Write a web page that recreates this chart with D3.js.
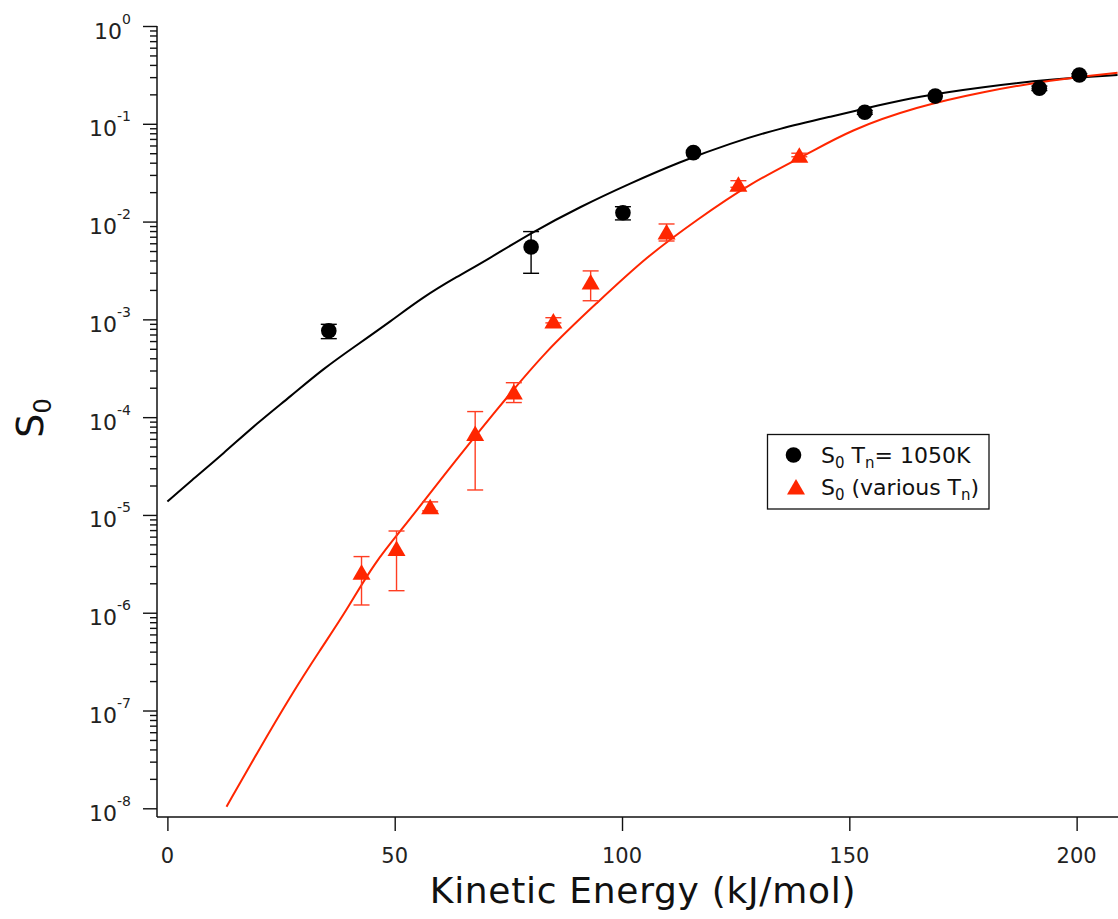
<!DOCTYPE html>
<html>
<head>
<meta charset="utf-8">
<script src="https://cdn.jsdelivr.net/npm/d3@7"></script>
<style>
  html, body { margin: 0; padding: 0; background: #fff; }
  svg { display: block; font-family: "DejaVu Sans", sans-serif; }
</style>
</head>
<body>
<svg id="chart" width="1118" height="919"></svg>
<script>
// ── Data ───────────────────────────────────────────────────────────────────
// Black circles: S0 at Tn = 1050 K  (x = kinetic energy kJ/mol)
const circleX  = [35.5, 80.0, 100.2, 115.7, 153.4, 168.9, 191.8, 200.6];
const circleY  = [7.66e-4, 5.5e-3, 0.0123, 0.0507, 0.131, 0.192, 0.2306, 0.315];
const circleHi = [8.9e-4, 7.9e-3, 0.0142, 0.0507, 0.137, 0.192, 0.243, 0.325];
const circleLo = [6.35e-4, 2.96e-3, 0.0104, 0.0507, 0.125, 0.192, 0.219, 0.305];

// Red triangles: S0 at various Tn
const triX  = [42.7, 50.4, 57.8, 67.7, 76.2, 84.9, 93.1, 109.8, 125.6, 139.0];
const triY  = [2.61e-6, 4.57e-6, 1.22e-5, 6.85e-5, 1.82e-4, 9.7e-4, 2.43e-3, 7.88e-3, 0.0242, 0.048];
const triHi = [3.75e-6, 6.85e-6, 1.36e-5, 1.14e-4, 2.25e-4, 1.04e-3, 3.13e-3, 9.45e-3, 0.0262, 0.050];
const triLo = [1.2e-6, 1.68e-6, 1.1e-5, 1.8e-5, 1.41e-4, 9.2e-4, 1.55e-3, 6.33e-3, 0.0224, 0.046];

// Fit curves (sampled along the drawn lines)
const blackFitX = [0, 5.0, 12.4, 19.7, 27.0, 34.4, 41.7, 49.0, 56.4, 63.7, 70.3, 79.8, 90.8,
                   101.8, 112.8, 123.8, 134.8, 145.8, 156.8, 164.8, 179.5, 194.2, 209.0];
const blackFitY = [1.37e-5, 2.19e-5, 4.28e-5, 8.66e-5, 1.62e-4, 3.16e-4, 5.47e-4, 9.48e-4, 1.71e-3,
                   2.73e-3, 4.05e-3, 7.59e-3, 0.01419, 0.02464, 0.04095, 0.0632, 0.0900, 0.118,
                   0.1557, 0.189, 0.239, 0.285, 0.315];
const redFitX = [13.0, 19.7, 27.0, 33.6, 39.5, 45.4, 52.7, 60.0, 72.4, 83.4, 94.4, 105.4,
                 116.4, 128.2, 140.5, 150.2, 164.8, 179.5, 194.2, 209.0];
const redFitY = [1.04e-8, 3.66e-8, 1.39e-7, 4.17e-7, 1.07e-6, 3.21e-6, 8.22e-6, 2.28e-5, 1.19e-4,
                 4.87e-4, 1.46e-3, 4.38e-3, 0.01038, 0.0247, 0.048, 0.0865, 0.1496, 0.213,
                 0.2805, 0.333];

const xTicks = [0, 50, 100, 150, 200];
const yExps  = [0, -1, -2, -3, -4, -5, -6, -7, -8];

// ── Layout ────────────────────────────────────────────────────────────────
const RED = "#ff2600";
const svg = d3.select("#chart");

const x = d3.scaleLinear().domain([0, 209.1]).range([167.4, 1118]);
const y = d3.scaleLog().domain([1e-8, 1]).range([808.3, 26]);

const axisX = 157, axisY = 817;

// Y axis: line, major + minor ticks
const yMinor = [];
for (let e = -8; e < 0; e++) for (let m = 2; m <= 9; m++) yMinor.push(m * Math.pow(10, e));

svg.append("g").attr("transform", `translate(${axisX},0)`)
  .call(d3.axisLeft(y).tickValues(yMinor).tickSize(7).tickFormat(""))
  .call(ax => ax.select(".domain").remove())
  .selectAll("line").attr("stroke", "#111").attr("stroke-width", 1.4);

svg.append("g").attr("transform", `translate(${axisX},0)`)
  .call(d3.axisLeft(y).tickValues(yExps.map(e => Math.pow(10, e))).tickSize(14).tickFormat(""))
  .call(ax => ax.select(".domain").remove())
  .selectAll("line").attr("stroke", "#111").attr("stroke-width", 1.4);

svg.append("line")
  .attr("x1", axisX).attr("x2", axisX).attr("y1", 26).attr("y2", axisY)
  .attr("stroke", "#111").attr("stroke-width", 1.5);

const yLab = svg.append("g").selectAll("text").data(yExps).join("text")
  .attr("x", 131).attr("y", d => y(Math.pow(10, d)) + 12.5)
  .attr("text-anchor", "end").attr("fill", "#222").attr("font-size", 22);
yLab.append("tspan").text("10");
yLab.append("tspan").attr("dy", -15).attr("font-size", 14).text(d => String(d));

// X axis
svg.append("g").attr("transform", `translate(0,${axisY})`)
  .call(d3.axisBottom(x).tickValues(xTicks).tickSize(14).tickFormat(""))
  .call(ax => ax.select(".domain").remove())
  .selectAll("line").attr("stroke", "#111").attr("stroke-width", 1.4);

svg.append("line")
  .attr("x1", axisX).attr("x2", 1118).attr("y1", axisY).attr("y2", axisY)
  .attr("stroke", "#111").attr("stroke-width", 1.5);

svg.append("g").selectAll("text").data(xTicks).join("text")
  .attr("x", d => x(d)).attr("y", 863)
  .attr("text-anchor", "middle").attr("fill", "#222").attr("font-size", 21)
  .text(d => d);

// Axis titles
svg.append("text")
  .attr("x", 643).attr("y", 903).attr("text-anchor", "middle")
  .attr("font-size", 36).attr("letter-spacing", 0.7).attr("fill", "#111")
  .text("Kinetic Energy (kJ/mol)");

const yt = svg.append("text")
  .attr("transform", "translate(43,418) rotate(-90)")
  .attr("text-anchor", "middle").attr("font-size", 38).attr("fill", "#111");
yt.append("tspan").text("S");
yt.append("tspan").attr("dy", 8).attr("font-size", 24).text("0");

// ── Fit curves ────────────────────────────────────────────────────────────
const line = d3.line().x(d => x(d[0])).y(d => y(d[1])).curve(d3.curveBasis);

svg.append("path").datum(d3.zip(blackFitX, blackFitY))
  .attr("d", line).attr("fill", "none").attr("stroke", "#000").attr("stroke-width", 2);
svg.append("path").datum(d3.zip(redFitX, redFitY))
  .attr("d", line).attr("fill", "none").attr("stroke", RED).attr("stroke-width", 2);

// ── Error bars ────────────────────────────────────────────────────────────
function errorBars(xs, hi, lo, color, width) {
  const g = svg.append("g").attr("stroke", color).attr("stroke-width", width).attr("fill", "none");
  xs.forEach((xv, i) => {
    if (hi[i] === lo[i]) return;
    const cx = x(xv), y1 = y(hi[i]), y2 = y(lo[i]);
    g.append("line").attr("x1", cx).attr("x2", cx).attr("y1", y1).attr("y2", y2);
    g.append("line").attr("x1", cx - 8).attr("x2", cx + 8).attr("y1", y1).attr("y2", y1);
    g.append("line").attr("x1", cx - 8).attr("x2", cx + 8).attr("y1", y2).attr("y2", y2);
  });
}
errorBars(circleX, circleHi, circleLo, "#000", 1.4);
errorBars(triX, triHi, triLo, "#ff3d22", 1.4);

// ── Markers ───────────────────────────────────────────────────────────────
const triPath = "M0,-8L9,7.5L-9,7.5Z";

svg.append("g").selectAll("circle").data(d3.zip(circleX, circleY)).join("circle")
  .attr("cx", d => x(d[0])).attr("cy", d => y(d[1])).attr("r", 7.8).attr("fill", "#000");

svg.append("g").selectAll("path").data(d3.zip(triX, triY)).join("path")
  .attr("d", triPath)
  .attr("transform", d => `translate(${x(d[0])},${y(d[1]) + 0.3})`)
  .attr("fill", RED);

// ── Legend ────────────────────────────────────────────────────────────────
const lg = svg.append("g");
lg.append("rect").attr("x", 767.5).attr("y", 434.5).attr("width", 221.5).attr("height", 74.5)
  .attr("fill", "#fff").attr("stroke", "#111").attr("stroke-width", 1.3);
lg.append("circle").attr("cx", 793.5).attr("cy", 455).attr("r", 7.8).attr("fill", "#000");
lg.append("path").attr("d", triPath).attr("transform", "translate(796,487)").attr("fill", RED);

const l1 = lg.append("text").attr("x", 821).attr("y", 463).attr("font-size", 22).attr("fill", "#111");
l1.append("tspan").text("S");
l1.append("tspan").attr("dy", 5).attr("font-size", 15).text("0");
l1.append("tspan").attr("dy", -5).text(" T");
l1.append("tspan").attr("dy", 5).attr("font-size", 15).text("n");
l1.append("tspan").attr("dy", -5).text("= 1050K");

const l2 = lg.append("text").attr("x", 821).attr("y", 495).attr("font-size", 22).attr("fill", "#111");
l2.append("tspan").text("S");
l2.append("tspan").attr("dy", 5).attr("font-size", 15).text("0");
l2.append("tspan").attr("dy", -5).text(" (various T");
l2.append("tspan").attr("dy", 5).attr("font-size", 15).text("n");
l2.append("tspan").attr("dy", -5).text(")");
</script>
</body>
</html>
